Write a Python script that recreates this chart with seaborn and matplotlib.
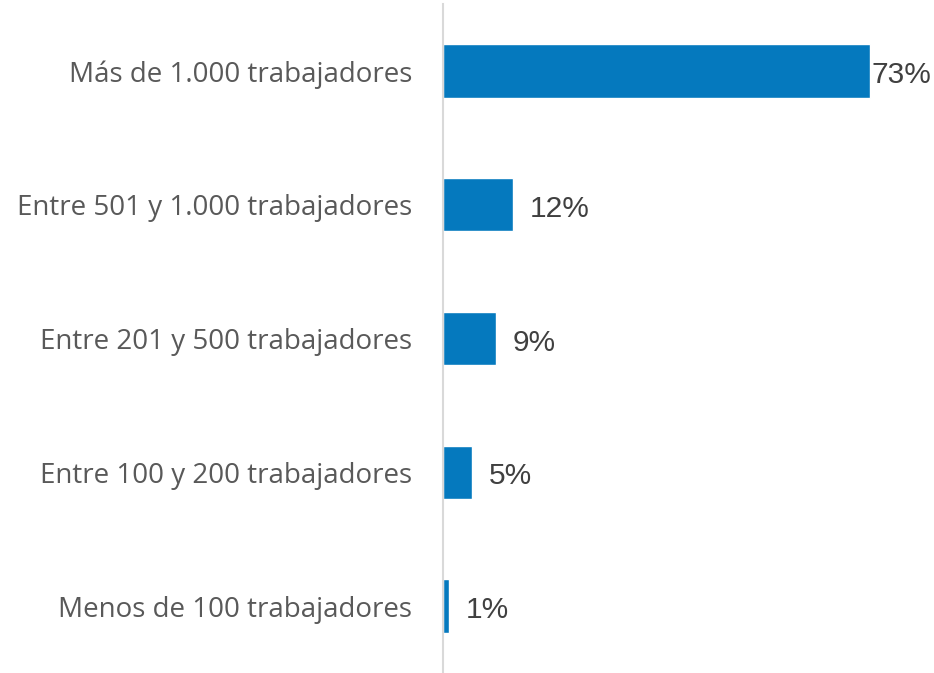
import matplotlib
matplotlib.use("Agg")
import matplotlib.pyplot as plt
import pandas as pd
import seaborn as sns

categories = [
    "Más de 1.000 trabajadores",
    "Entre 501 y 1.000 trabajadores",
    "Entre 201 y 500 trabajadores",
    "Entre 100 y 200 trabajadores",
    "Menos de 100 trabajadores",
]
values = [73, 12, 9, 5, 1]

df = pd.DataFrame({"Tamaño": categories, "Porcentaje": values})

sns.set_theme(style="white")
plt.rcParams["font.family"] = ["Open Sans", "DejaVu Sans"]

fig = plt.figure(figsize=(9.34, 6.73), dpi=100)
ax = fig.add_axes([443 / 934, 0.0, (934 - 443) / 934, 669 / 673])

sns.barplot(data=df, x="Porcentaje", y="Tamaño", color="#0579BE",
            saturation=1, width=0.4, orient="h", ax=ax)

ax.set_xlim(0, 84)
ax.set_ylim(4.5, -0.5)
ax.set_xlabel("")
ax.set_ylabel("")
ax.set_xticks([])
ax.tick_params(axis="y", length=0, pad=22, labelsize=20, labelcolor="#595959")

for s in ["top", "right", "bottom"]:
    ax.spines[s].set_visible(False)
ax.spines["left"].set_color("#D9D9D9")
ax.spines["left"].set_linewidth(1.5)

for i, v in enumerate(values):
    pad = 1.5 if v > 50 else 12
    ax.annotate(f"{v}%", xy=(v, i), xytext=(pad, -3), textcoords="offset points",
                va="center", ha="left", fontsize=21.5, color="#404040",
                family="Liberation Sans")

fig.savefig("out.png", dpi=100)
